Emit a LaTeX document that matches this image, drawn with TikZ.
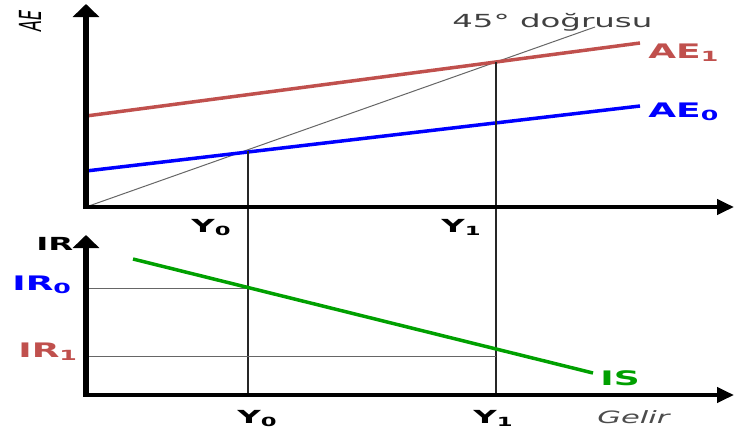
\documentclass[tikz,border=0pt]{standalone}
\usepackage{fontspec}
\setmainfont{DejaVu Sans}
\usepackage{xcolor}
\usetikzlibrary{arrows.meta,positioning}

\definecolor{aered}{RGB}{192,80,77}
\definecolor{aeblue}{RGB}{0,0,255}
\definecolor{isgreen}{RGB}{0,160,0}

\begin{document}
\begin{tikzpicture}[
  x=1pt, y=-1pt,
  axis/.style={line width=4pt, -{Triangle[length=17pt,width=15pt]}},
  vaxis/.style={line width=6pt, -{Triangle[length=13pt,width=26pt]}},
  curve/.style={line width=3.5pt},
  diag/.style={gray!80!black, line width=1pt},
  drop/.style={black!85, line width=1.6pt},
  guide/.style={black!60, line width=1pt},
  txt/.style={inner sep=0pt, xscale=1.8, anchor=base west},
  lbl/.style={txt, font=\fontsize{20}{22}\selectfont\bfseries},
  ylbl/.style={txt, font=\fontsize{18}{20}\selectfont\bfseries}
]
\useasboundingbox (0,0) rectangle (734,432);

% top panel: AE diagram
\coordinate (o1) at (86,207);
\coordinate (y1top) at (86,4);
\coordinate (x1end) at (734,207);
\coordinate (ae1a) at (86,116);
\coordinate (ae1b) at (640,43);
\coordinate (ae0a) at (86,171);
\coordinate (ae0b) at (640,106);
\coordinate (diagend) at (595,27);
\coordinate (e0) at (248,151);
\coordinate (e1) at (496,62);

% bottom panel: IS diagram
\coordinate (o2) at (86,395);
\coordinate (y2top) at (86,235);
\coordinate (x2end) at (734,395);
\coordinate (isa) at (133,259);
\coordinate (isb) at (593,373);
\coordinate (f0) at (248,288);
\coordinate (f1) at (496,356);
\coordinate (b0) at (248,395);
\coordinate (b1) at (496,395);
\coordinate (g0) at (86,288);
\coordinate (g1) at (86,356);

\draw[diag] (o1) -- (diagend);
\draw[curve, aered] (ae1a) -- (ae1b);
\draw[curve, aeblue] (ae0a) -- (ae0b);
\draw[drop] (e0) -- (b0);
\draw[drop] (e1) -- (b1);
\draw[guide] (g0) -- (f0);
\draw[guide] (g1) -- (f1);
\draw[curve, isgreen] (isa) -- (isb);

\draw[vaxis] ([yshift=2pt]o1) -- (y1top);
\draw[axis] ([xshift=-3pt]o1) -- (x1end);
\draw[vaxis] ([yshift=2pt]o2) -- (y2top);
\draw[axis] ([xshift=-3pt]o2) -- (x2end);

\node[xscale=1.9, rotate=90, inner sep=0pt, font=\fontsize{16}{18}\selectfont\itshape] (aeaxis) at (30,21) {AE};
\node[txt, font=\fontsize{18}{20}\selectfont, text=black!75] (deg) at (452,27) {45° doğrusu};
\node[lbl, text=aered] (ae1lbl) at (648,58) {AE\textsubscript{1}};
\node[lbl, text=aeblue] (ae0lbl) at (648,117) {AE\textsubscript{0}};
\node[ylbl] (ytop0) at (191,232) {Y\textsubscript{0}};
\node[ylbl] (ytop1) at (441,232) {Y\textsubscript{1}};

\node[ylbl] (iraxis) at (36,250) {IR};
\node[lbl, text=aeblue] (ir0) at (12,290) {IR\textsubscript{0}};
\node[lbl, text=aered] (ir1) at (18,357) {IR\textsubscript{1}};
\node[lbl, text=isgreen] (islbl) at (600,385) {IS};
\node[ylbl] (ybot0) at (237,423) {Y\textsubscript{0}};
\node[ylbl] (ybot1) at (473,423) {Y\textsubscript{1}};
\node[txt, font=\fontsize{17}{19}\selectfont\itshape, text=black!70] (gelir) at (597,423) {Gelir};
\end{tikzpicture}
\end{document}
